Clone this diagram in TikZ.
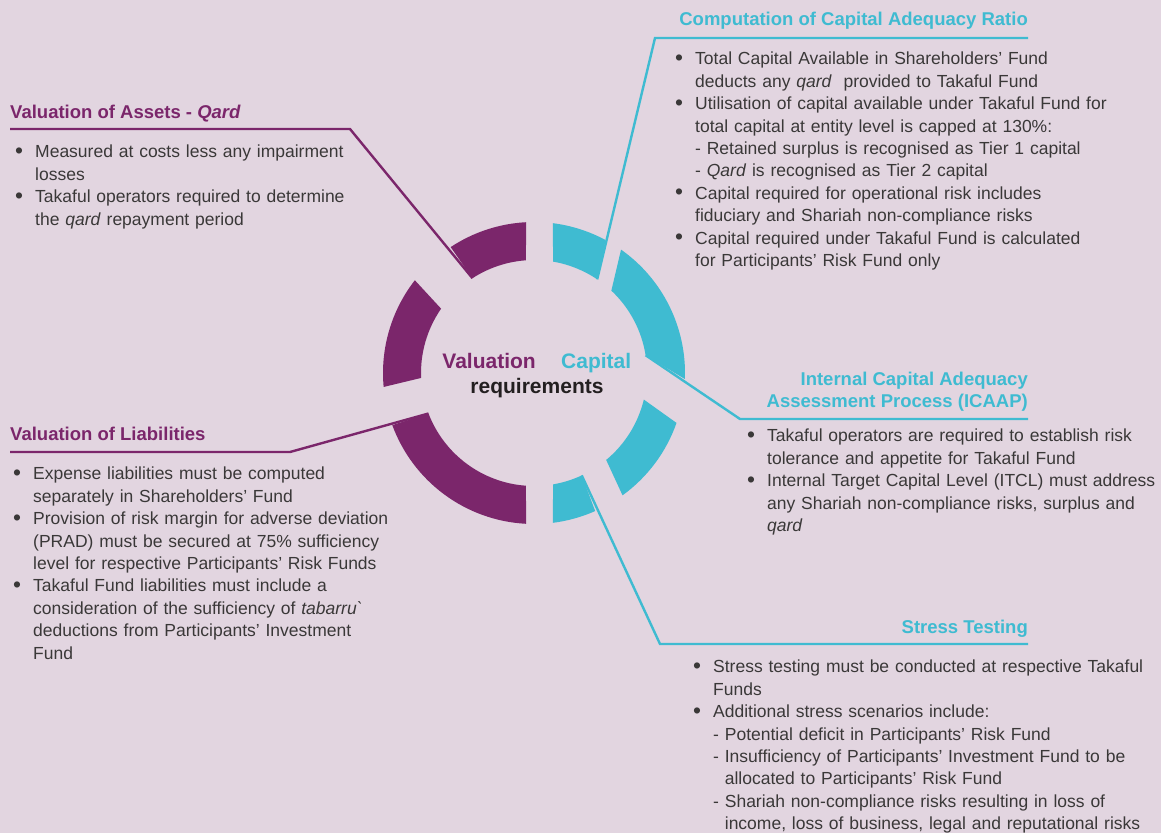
\documentclass[tikz,border=0pt]{standalone}
\usepackage{fontspec}
\usepackage{graphicx}
\setmainfont{Liberation Sans}
\definecolor{bgmauve}{HTML}{E2D5E0}
\definecolor{valplum}{HTML}{7B266B}
\definecolor{capcyan}{HTML}{3FBBD1}
\definecolor{bodygray}{HTML}{3A3838}
\definecolor{reqblack}{HTML}{231F20}
\newlength{\bind}
\setlength{\bind}{20pt}
\newcommand{\bodyfont}{\fontsize{17.5}{22.4}\selectfont}
\newcommand{\headfont}{\fontsize{18.5}{22}\selectfont\bfseries}
% one bullet paragraph, lines broken by hand with \newline
\newcommand{\bpt}[1]{\par\noindent\hangindent=\bind\hangafter=1\makebox[\bind][l]{\strut\raisebox{-0.4pt}{\scalebox{1.3}{\textbullet}}}#1\par}
\newcommand{\dsh}{\hphantom{-\ }}

\begin{document}
\begin{tikzpicture}[x=1pt, y=-1pt,
  body/.style={anchor=north west, inner sep=0pt, text width=470pt, align=left, font=\bodyfont, text=bodygray},
  head/.style={inner sep=0pt, font=\headfont},
  plumline/.style={draw=valplum, line width=2.4pt},
  cyanline/.style={draw=capcyan, line width=2.4pt}]
\def\rout{151}
\def\rin{113}
%background
\useasboundingbox (0,0) rectangle (1161,833);
\fill[bgmauve] (0,0) rectangle (1161,833);
%ring
\begin{scope}[shift={(534,373)}, yscale=-1]
\foreach \oa/\ob/\ia/\ib/\cl in {93/123.5/123/94.1/valplum, 142.1/185.3/182.5/145.3/valplum, 200.2/267/265.9/201/valplum,
  82.8/61.7/56/80.3/capcyan, 54.8/-2.3/9.05/46.8/capcyan, -19.3/-54.1/-50.3/-13.6/capcyan, -82.8/-66.1/-65/-80.3/capcyan}
  \fill[\cl] (\oa:\rout) arc[start angle=\oa, end angle=\ob, radius=\rout] -- (\ia:\rin) arc[start angle=\ia, end angle=\ib, radius=\rin] -- cycle;
%segment corners
\coordinate (p1in) at (123:\rin);
\coordinate (p3in) at (201:\rin);
\coordinate (c1in) at (56:\rin);
\coordinate (c2in) at (9.05:\rin);
\coordinate (c4in) at (-65:\rin);
\end{scope}
%centre label
\node[head, anchor=base east, text=valplum, font=\fontsize{21}{25}\selectfont\bfseries] (val) at (536,368) {Valuation};
\node[head, anchor=base west, text=capcyan, font=\fontsize{21}{25}\selectfont\bfseries] (cap) at (561,368) {Capital};
\node[head, anchor=base, text=reqblack, font=\fontsize{21}{25}\selectfont\bfseries] (req) at (537,393) {requirements};
%headings
\node[head, anchor=base west, text=valplum] (assets) at (10,118) {Valuation of Assets - \textit{Qard}};
\node[head, anchor=base west, text=valplum] (liab) at (10,440) {Valuation of Liabilities};
\node[head, anchor=base east, text=capcyan] (car) at (1028,25) {Computation of Capital Adequacy Ratio};
\node[head, anchor=north east, align=right, text=capcyan] (icaap) at (1028,369.6) {\strut Internal Capital Adequacy\\Assessment Process (ICAAP)};
\node[head, anchor=base east, text=capcyan] (stress) at (1028,633) {Stress Testing};
%connectors
\coordinate (assetsA) at (10,129);
\coordinate (assetsB) at (350,129);
\coordinate (liabA) at (10,452);
\coordinate (liabB) at (290,452);
\coordinate (carA) at (1028,38);
\coordinate (carB) at (655,38);
\coordinate (icaapA) at (1028,419);
\coordinate (icaapB) at (740,419);
\coordinate (stressA) at (1028,644);
\coordinate (stressB) at (660,644);
\draw[plumline] (assetsA) -- (assetsB) -- (p1in);
\draw[plumline] (liabA) -- (liabB) -- (p3in);
\draw[cyanline] (carA) -- (carB) -- (c1in);
\draw[cyanline] (icaapA) -- (icaapB) -- (c2in);
\draw[cyanline] (stressA) -- (stressB) -- (c4in);
%bullet text
\node[body] (assetsT) at (15,135.3) {%
\bpt{Measured at costs less any impairment\newline losses}
\bpt{Takaful operators required to determine\newline the \textit{qard} repayment period}};
\node[body] (liabT) at (13,457.3) {%
\bpt{Expense liabilities must be computed\newline separately in Shareholders’ Fund}
\bpt{Provision of risk margin for adverse deviation\newline (PRAD) must be secured at 75\% sufficiency\newline level for respective Participants’ Risk Funds}
\bpt{Takaful Fund liabilities must include a\newline consideration of the sufficiency of \textit{tabarru\textasciigrave}\newline deductions from Participants’ Investment\newline Fund}};
\node[body] (carT) at (675,42.3) {%
\bpt{Total Capital Available in Shareholders’ Fund\newline deducts any \textit{qard}\ \ provided to Takaful Fund}
\bpt{Utilisation of capital available under Takaful Fund for\newline total capital at entity level is capped at 130\%:\newline - Retained surplus is recognised as Tier 1 capital\newline - \textit{Qard} is recognised as Tier 2 capital}
\bpt{Capital required for operational risk includes\newline fiduciary and Shariah non-compliance risks}
\bpt{Capital required under Takaful Fund is calculated\newline for Participants’ Risk Fund only}};
\node[body] (icaapT) at (747,419.3) {%
\bpt{Takaful operators are required to establish risk\newline tolerance and appetite for Takaful Fund}
\bpt{Internal Target Capital Level (ITCL) must address\newline any Shariah non-compliance risks, surplus and\newline \textit{qard}}};
\node[body] (stressT) at (693,650.3) {%
\bpt{Stress testing must be conducted at respective Takaful\newline Funds}
\bpt{Additional stress scenarios include:\newline - Potential deficit in Participants’ Risk Fund\newline - Insufficiency of Participants’ Investment Fund to be\newline \dsh allocated to Participants’ Risk Fund\newline - Shariah non-compliance risks resulting in loss of\newline \dsh income, loss of business, legal and reputational risks}};
\end{tikzpicture}
\end{document}
